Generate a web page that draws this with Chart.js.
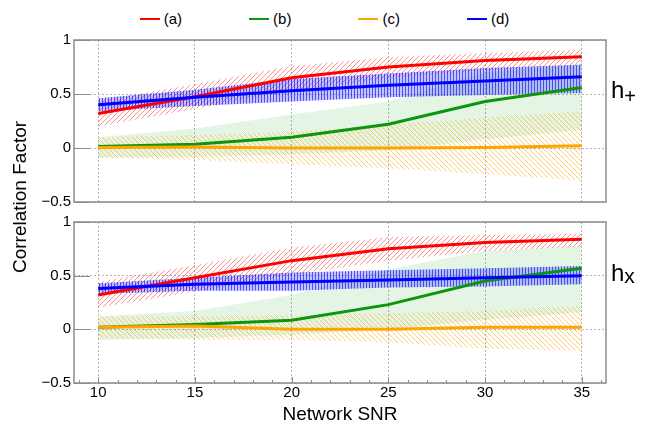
<!DOCTYPE html>
<html>
<head>
<meta charset="utf-8">
<script src="https://cdn.jsdelivr.net/npm/chart.js@4.4.1/dist/chart.umd.min.js"></script>
<style>
  html, body { margin: 0; padding: 0; background: #fff; }
  body { width: 649px; height: 423px; position: relative; overflow: hidden; font-family: "Liberation Sans", Arial, sans-serif; color: #000; }
  canvas { position: absolute; left: 0; }
  #plus { top: 0; }
  #cross { top: 210px; }
  #legend { position: absolute; top: 9px; left: 0; width: 649px; display: flex; justify-content: center; gap: 67px; font-size: 15px; line-height: 20px; }
  #legend .item { display: flex; align-items: center; }
  #legend .swatch { width: 20px; height: 2px; margin-right: 4px; }
  .ytitle { position: absolute; left: 20px; top: 197px; transform: translate(-50%, -50%) rotate(-90deg); font-size: 19px; white-space: nowrap; }
  .pol { position: absolute; left: 611px; font-size: 24px; line-height: 24px; white-space: nowrap; }
  .pol span { position: relative; }
</style>
</head>
<body>
<div id="legend"></div>
<canvas id="plus" width="649" height="214"></canvas>
<canvas id="cross" width="649" height="216"></canvas>
<div class="ytitle">Correlation Factor</div>
<div class="pol" style="top:78px">h<span style="font-size:20px; top:5px">+</span></div>
<div class="pol" style="top:261px">h<span style="font-size:21px; top:2px">x</span></div>
<script>
// valeurs
const snr = [10, 15, 20, 25, 30, 35];
const xTicks = [10, 15, 20, 25, 30, 35];
const yTicks = [-0.5, 0, 0.5, 1];
const yTickLabels = ['\u22120.5', '0', '0.5', '1'];
const seriesNames = ['(a)', '(b)', '(c)', '(d)'];
const seriesColors = ['#ff0000', '#0c960c', '#ffa500', '#0000ff'];

// panneau h+
const plusA   = [0.32, 0.475, 0.65, 0.75, 0.81, 0.845];
const plusAHi = [0.44, 0.59, 0.76, 0.84, 0.88, 0.91];
const plusALo = [0.20, 0.36, 0.53, 0.65, 0.72, 0.77];
const plusB   = [0.015, 0.035, 0.10, 0.22, 0.43, 0.56];
const plusBHi = [0.10, 0.18, 0.31, 0.43, 0.70, 0.78];
const plusBLo = [-0.09, -0.08, -0.06, -0.02, 0.08, 0.17];
const plusC   = [0.005, 0.01, 0.0, 0.0, 0.005, 0.02];
const plusCHi = [0.10, 0.12, 0.15, 0.22, 0.28, 0.34];
const plusCLo = [-0.09, -0.11, -0.15, -0.19, -0.24, -0.30];
const plusD   = [0.40, 0.47, 0.53, 0.58, 0.62, 0.66];
const plusDHi = [0.46, 0.54, 0.64, 0.69, 0.74, 0.77];
const plusDLo = [0.34, 0.39, 0.43, 0.47, 0.49, 0.51];

// panneau hx
const crossA   = [0.32, 0.48, 0.64, 0.75, 0.81, 0.84];
const crossAHi = [0.44, 0.60, 0.76, 0.86, 0.88, 0.89];
const crossALo = [0.20, 0.35, 0.51, 0.64, 0.73, 0.77];
const crossB   = [0.02, 0.045, 0.085, 0.23, 0.45, 0.57];
const crossBHi = [0.12, 0.17, 0.32, 0.56, 0.73, 0.78];
const crossBLo = [-0.10, -0.08, -0.05, 0.0, 0.09, 0.16];
const crossC   = [0.02, 0.03, 0.0, 0.0, 0.02, 0.02];
const crossCHi = [0.12, 0.12, 0.13, 0.15, 0.17, 0.22];
const crossCLo = [-0.08, -0.10, -0.10, -0.12, -0.18, -0.20];
const crossD   = [0.38, 0.42, 0.44, 0.46, 0.48, 0.50];
const crossDHi = [0.43, 0.48, 0.53, 0.55, 0.57, 0.59];
const crossDLo = [0.33, 0.36, 0.36, 0.39, 0.40, 0.42];

Chart.defaults.font.family = '"Liberation Sans", Arial, sans-serif';
Chart.defaults.color = '#000';

// légende html
const legend = document.getElementById('legend');
seriesNames.forEach((name, k) => {
  const item = document.createElement('div');
  item.className = 'item';
  item.innerHTML = '<div class="swatch" style="background:' + seriesColors[k] + '"></div>' + name;
  legend.appendChild(item);
});

// motifs des bandes
function tile(w, h, draw) {
  const c = document.createElement('canvas');
  c.width = w; c.height = h;
  const g = c.getContext('2d');
  draw(g);
  return g.createPattern(c, 'repeat');
}
function hatch(color, dir) {
  return tile(5, 5, g => {
    g.strokeStyle = color;
    g.lineWidth = 1;
    g.beginPath();
    if (dir > 0) {
      g.moveTo(-1, 6); g.lineTo(6, -1);
      g.moveTo(-1, 1); g.lineTo(1, -1);
      g.moveTo(4, 6); g.lineTo(6, 4);
    } else {
      g.moveTo(-1, -1); g.lineTo(6, 6);
      g.moveTo(4, -1); g.lineTo(6, 1);
      g.moveTo(-1, 4); g.lineTo(1, 6);
    }
    g.stroke();
  });
}
const bandPatterns = [
  hatch('rgba(255,50,50,0.55)', 1),
  tile(2, 2, g => {
    g.fillStyle = 'rgba(0,160,0,0.15)';
    g.fillRect(0, 0, 1, 1); g.fillRect(1, 1, 1, 1);
    g.fillStyle = 'rgba(0,160,0,0.06)';
    g.fillRect(1, 0, 1, 1); g.fillRect(0, 1, 1, 1);
  }),
  hatch('rgba(255,165,0,0.55)', -1),
  tile(3, 1, g => {
    g.fillStyle = 'rgba(60,60,255,0.3)';
    g.fillRect(0, 0, 3, 1);
    g.fillStyle = 'rgba(0,0,255,0.6)';
    g.fillRect(0, 0, 1, 1);
  })
];

const xy = vals => snr.map((x, i) => ({ x: x, y: vals[i] }));

// cadre et graduations intérieures
const framePlugin = {
  id: 'frame',
  afterDatasetsDraw(chart, args, opts) {
    const { ctx, chartArea: a, scales } = chart;
    ctx.save();
    ctx.strokeStyle = '#8c8c8c';
    ctx.lineWidth = 1.5;
    ctx.strokeRect(a.left, a.top, a.right - a.left, a.bottom - a.top);
    ctx.lineWidth = 1;
    ctx.beginPath();
    yTicks.forEach(v => {
      const y = Math.round(scales.y.getPixelForValue(v)) + 0.5;
      ctx.moveTo(a.left, y); ctx.lineTo(a.left + 16, y);
    });
    if (opts.xTicks) {
      for (let v = 9; v <= 36; v++) {
        const x = Math.round(scales.x.getPixelForValue(v)) + 0.5;
        ctx.moveTo(x, a.bottom); ctx.lineTo(x, a.bottom - (v % 5 === 0 ? 6 : 3));
      }
    }
    ctx.stroke();
    ctx.restore();
  }
};

function buildPanel(id, mains, los, his, showX) {
  const datasets = [];
  mains.forEach((vals, k) => {
    datasets.push({ label: seriesNames[k] + ' bas', data: xy(los[k]), borderColor: 'transparent', borderWidth: 0, pointRadius: 0, fill: false, order: 13 - k });
    datasets.push({ label: seriesNames[k] + ' haut', data: xy(his[k]), borderColor: 'transparent', borderWidth: 0, pointRadius: 0, fill: '-1', backgroundColor: bandPatterns[k], order: 13 - k });
  });
  mains.forEach((vals, k) => {
    datasets.push({ label: seriesNames[k], data: xy(vals), borderColor: seriesColors[k], borderWidth: 3, pointRadius: 0, fill: false, tension: 0, order: 3 - k });
  });

  return new Chart(document.getElementById(id), {
    type: 'line',
    data: { datasets: datasets },
    plugins: [framePlugin],
    options: {
      responsive: false,
      animation: false,
      layout: { padding: showX ? { left: 0, right: 43, top: 12, bottom: 0 } : { left: 0, right: 43, top: 40, bottom: 12 } },
      plugins: {
        legend: { display: false },
        tooltip: { enabled: false },
        filler: { drawTime: 'beforeDatasetsDraw' },
        frame: { xTicks: showX }
      },
      scales: {
        x: {
          type: 'linear',
          min: 8.75,
          max: 36.25,
          afterBuildTicks: s => { s.ticks = xTicks.map(v => ({ value: v })); },
          afterFit: s => { s.height = showX ? 43 : 0; },
          grid: { color: '#b4b4b4', lineWidth: 1, drawTicks: false },
          border: { display: false, dash: [2, 2] },
          ticks: { display: showX, font: { size: 15 }, padding: 1, maxRotation: 0 },
          title: { display: showX, text: 'Network SNR', font: { size: 19 }, padding: 0 }
        },
        y: {
          min: -0.5,
          max: 1,
          afterBuildTicks: s => { s.ticks = yTicks.map(v => ({ value: v })); },
          afterFit: s => { s.width = 74; },
          grid: { color: '#b4b4b4', lineWidth: 1, drawTicks: false },
          border: { display: false, dash: [2, 2] },
          ticks: { font: { size: 15 }, padding: 3, callback: (v, i) => yTickLabels[i] }
        }
      }
    }
  });
}

buildPanel('plus', [plusA, plusB, plusC, plusD], [plusALo, plusBLo, plusCLo, plusDLo], [plusAHi, plusBHi, plusCHi, plusDHi], false);
buildPanel('cross', [crossA, crossB, crossC, crossD], [crossALo, crossBLo, crossCLo, crossDLo], [crossAHi, crossBHi, crossCHi, crossDHi], true);
</script>
</body>
</html>
